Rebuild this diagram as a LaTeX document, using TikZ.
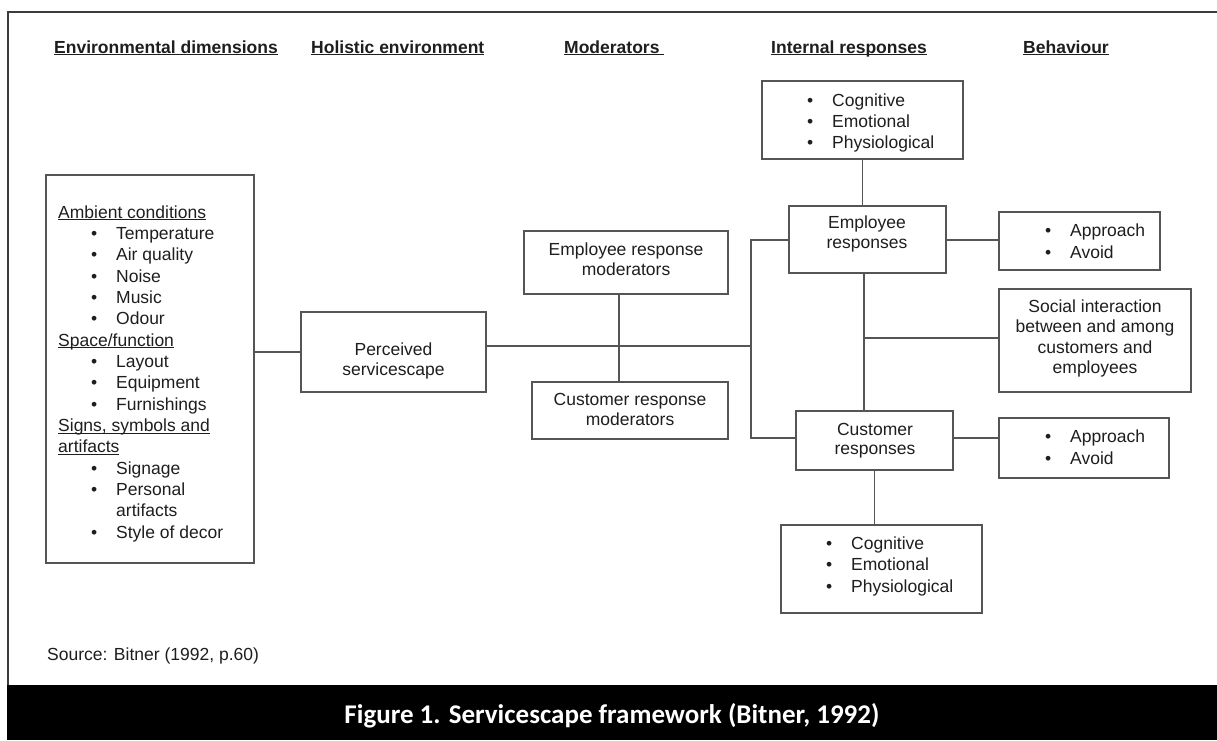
\documentclass[tikz,border=0pt]{standalone}
\usepackage{fontspec}
\setmainfont{Liberation Sans}
\newfontfamily\capfont{Carlito}
\usetikzlibrary{calc}
\definecolor{ln}{HTML}{555555}
\definecolor{tx}{HTML}{1E1E1E}
\definecolor{frm}{HTML}{3C3C3C}
\newcommand\bodysize{\fontsize{17.5}{21}\selectfont}
\newcommand\ulx[1]{\underline{\smash{#1}}}
\newcommand\bl[1]{\makebox[25pt][l]{•}#1}
\begin{document}
\begin{tikzpicture}[x=1pt,y=-1pt,
  box/.style={draw=ln,line width=1.3pt,inner sep=0pt},
  conn/.style={draw=ln,line width=1.3pt},
  txt/.style={inner sep=0pt,text=tx,font=\bodysize,anchor=base west},
  ctxt/.style={inner sep=0pt,text=tx,font=\bodysize,anchor=base},
  hdr/.style={inner sep=0pt,text=tx,font=\bodysize\bfseries,anchor=base west}]
\useasboundingbox (0,0) rectangle (1217,740);
\fill[white] (0,0) rectangle (1217,740);
\draw[frm,line width=2.5pt] (8,686) -- (8,12) -- (1217,12);
\fill[black] (6.75,685) rectangle (1217,740);
\node[anchor=base,text=white,font=\capfont\bfseries\fontsize{27}{31}\selectfont,inner sep=0pt] (cap) at (612,723) {Figure 1. Servicescape framework (Bitner, 1992)};

% headers
\node[hdr] (h1) at (54,53) {\ulx{Environmental dimensions}};
\node[hdr] (h2) at (311,53) {\ulx{Holistic environment}};
\node[hdr] (h3) at (564,53) {\ulx{Moderators\ }};
\node[hdr] (h4) at (771,53) {\ulx{Internal responses}};
\node[hdr] (h5) at (1023,53) {\ulx{Behaviour}};

% boxes
\node[box,minimum width=208,minimum height=388] (env) at (150,369) {};
\node[box,minimum width=185,minimum height=80] (perc) at (393.5,352) {};
\node[box,minimum width=204,minimum height=63] (emod) at (626,262.5) {};
\node[box,minimum width=196,minimum height=57] (cmod) at (630,410.5) {};
\node[box,minimum width=201,minimum height=78] (cogT) at (862.5,120) {};
\node[box,minimum width=157,minimum height=67] (eresp) at (867.5,239.5) {};
\node[box,minimum width=161,minimum height=58] (appE) at (1079.5,241) {};
\node[box,minimum width=192,minimum height=103] (social) at (1095,340.5) {};
\node[box,minimum width=157,minimum height=59] (cresp) at (874.5,440.5) {};
\node[box,minimum width=170,minimum height=60] (appC) at (1084,448) {};
\node[box,minimum width=201,minimum height=88] (cogB) at (881.5,569) {};

% environment box contents
\node[txt] (e0) at (58,218) {\ulx{Ambient conditions}};
\node[txt] (e1) at (91,239.3) {\bl{Temperature}};
\node[txt] (e2) at (91,260.7) {\bl{Air quality}};
\node[txt] (e3) at (91,282) {\bl{Noise}};
\node[txt] (e4) at (91,303.3) {\bl{Music}};
\node[txt] (e5) at (91,324.7) {\bl{Odour}};
\node[txt] (e6) at (58,346) {\ulx{Space/function}};
\node[txt] (e7) at (91,367.3) {\bl{Layout}};
\node[txt] (e8) at (91,388.7) {\bl{Equipment}};
\node[txt] (e9) at (91,410) {\bl{Furnishings}};
\node[txt] (e10) at (58,431.3) {\ulx{Signs, symbols and}};
\node[txt] (e11) at (58,452.7) {\ulx{artifacts}};
\node[txt] (e12) at (91,474) {\bl{Signage}};
\node[txt] (e13) at (91,495.3) {\bl{Personal}};
\node[txt] (e14) at (116,516.7) {artifacts};
\node[txt] (e15) at (91,538) {\bl{Style of decor}};

% other texts
\node[ctxt] (p1) at (393.5,355) {Perceived};
\node[ctxt] (p2) at (393.5,375.5) {servicescape};
\node[ctxt] (em1) at (626,255) {Employee response};
\node[ctxt] (em2) at (626,275) {moderators};
\node[ctxt] (cm1) at (630,405) {Customer response};
\node[ctxt] (cm2) at (630,425) {moderators};
\node[txt] (ct1) at (807,106) {\bl{Cognitive}};
\node[txt] (ct2) at (807,127) {\bl{Emotional}};
\node[txt] (ct3) at (807,148) {\bl{Physiological}};
\node[ctxt] (er1) at (867,228) {Employee};
\node[ctxt] (er2) at (867,248) {responses};
\node[txt] (ae1) at (1045,236) {\bl{Approach}};
\node[txt] (ae2) at (1045,258) {\bl{Avoid}};
\node[ctxt] (s1) at (1095,312) {Social interaction};
\node[ctxt] (s2) at (1095,332.5) {between and among};
\node[ctxt] (s3) at (1095,353) {customers and};
\node[ctxt] (s4) at (1095,373) {employees};
\node[ctxt] (cr1) at (875,435) {Customer};
\node[ctxt] (cr2) at (875,454.5) {responses};
\node[txt] (ac1) at (1045,442) {\bl{Approach}};
\node[txt] (ac2) at (1045,464) {\bl{Avoid}};
\node[txt] (cb1) at (826,549) {\bl{Cognitive}};
\node[txt] (cb2) at (826,570.5) {\bl{Emotional}};
\node[txt] (cb3) at (826,592) {\bl{Physiological}};
\node[txt] (src) at (47,660) {Source: Bitner (1992, p.60)};

% connector points
\coordinate (bus1) at (751,346);
\coordinate (busT) at (751,240);
\coordinate (busB) at (751,438);
\coordinate (modx) at (619,346);
\coordinate (ecx) at (864,338);

% connectors
\draw[conn] (env.east |- perc.west) -- (perc.west);
\draw[conn] (perc.east |- bus1) -- (bus1);
\draw[conn] (eresp.west |- busT) -- (busT) -- (busB) -- (cresp.west |- busB);
\draw[conn] (emod.south -| modx) -- (cmod.north -| modx);
\draw[conn] (cogT.south) -- (cogT.south |- eresp.north);
\draw[conn] (eresp.south -| ecx) -- (cresp.north -| ecx);
\draw[conn] (ecx) -- (social.west |- ecx);
\draw[conn] (eresp.east |- busT) -- (appE.west |- busT);
\draw[conn] (cresp.east |- busB) -- (appC.west |- busB);
\draw[conn] (cresp.south) -- (cresp.south |- cogB.north);
\end{tikzpicture}
\end{document}
